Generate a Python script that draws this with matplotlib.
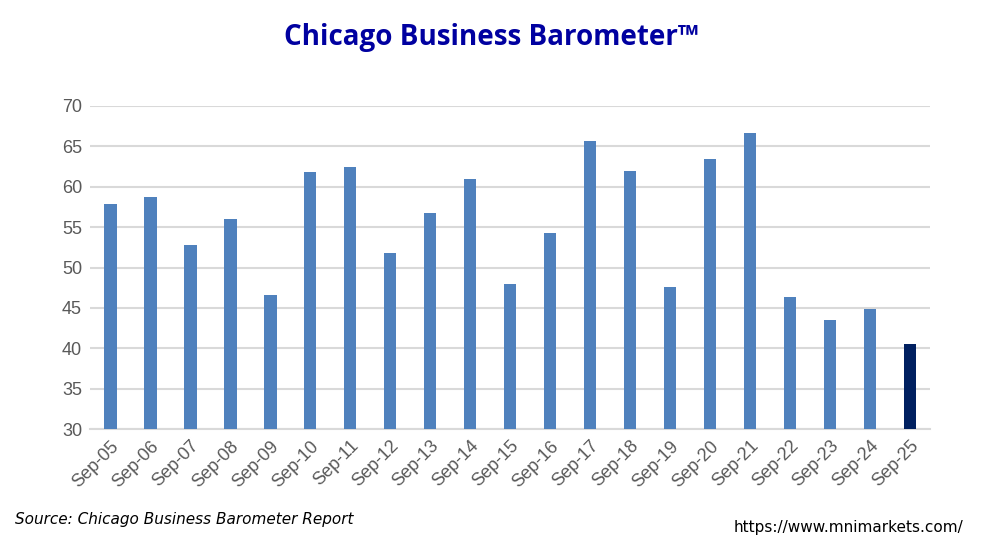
import matplotlib.pyplot as plt

years = [f"Sep-{y:02d}" for y in range(5, 26)]
values = [57.9, 58.7, 52.8, 56.0, 46.6, 61.8, 62.4, 51.8, 56.7, 60.9, 48.0,
          54.3, 65.6, 62.0, 47.6, 63.4, 66.6, 46.4, 43.5, 44.9, 40.5]
colors = ["#4f81bd"] * (len(values) - 1) + ["#002060"]

fig = plt.figure(figsize=(9.83, 5.46), dpi=100)
ax = fig.add_axes([0.092, 0.214, 0.854, 0.592])
x = range(len(values))
ax.bar(x, values, width=0.31, color=colors, zorder=3)

ax.set_ylim(30, 70)
ax.set_xlim(-0.5, len(values) - 0.5)
ax.set_yticks(range(30, 71, 5))
ax.yaxis.grid(True, color="#d9d9d9", linewidth=1.5, zorder=0)
for s in ["top", "right", "left"]:
    ax.spines[s].set_visible(False)
ax.spines["bottom"].set_color("#d9d9d9")
ax.spines["bottom"].set_linewidth(1.5)
ax.tick_params(length=0, labelsize=13, colors="#595959", pad=6)
ax.set_xticks(list(x))
ax.set_xticklabels(years, rotation=45, ha="right", rotation_mode="anchor")
for lab in ax.get_xticklabels() + ax.get_yticklabels():
    lab.set_family("Liberation Sans")

fig.text(0.5, 0.932, "Chicago Business Barometer\u2122", ha="center", va="center",
         fontsize=20, fontweight="bold", color="#0000a0", family="Open Sans")
fig.text(0.015, 0.04, "Source: Chicago Business Barometer Report", fontsize=11,
         style="italic", color="black")
fig.text(0.98, 0.025, "https://www.mnimarkets.com/", fontsize=11, ha="right",
         color="black")

fig.savefig("out.png", dpi=100)
